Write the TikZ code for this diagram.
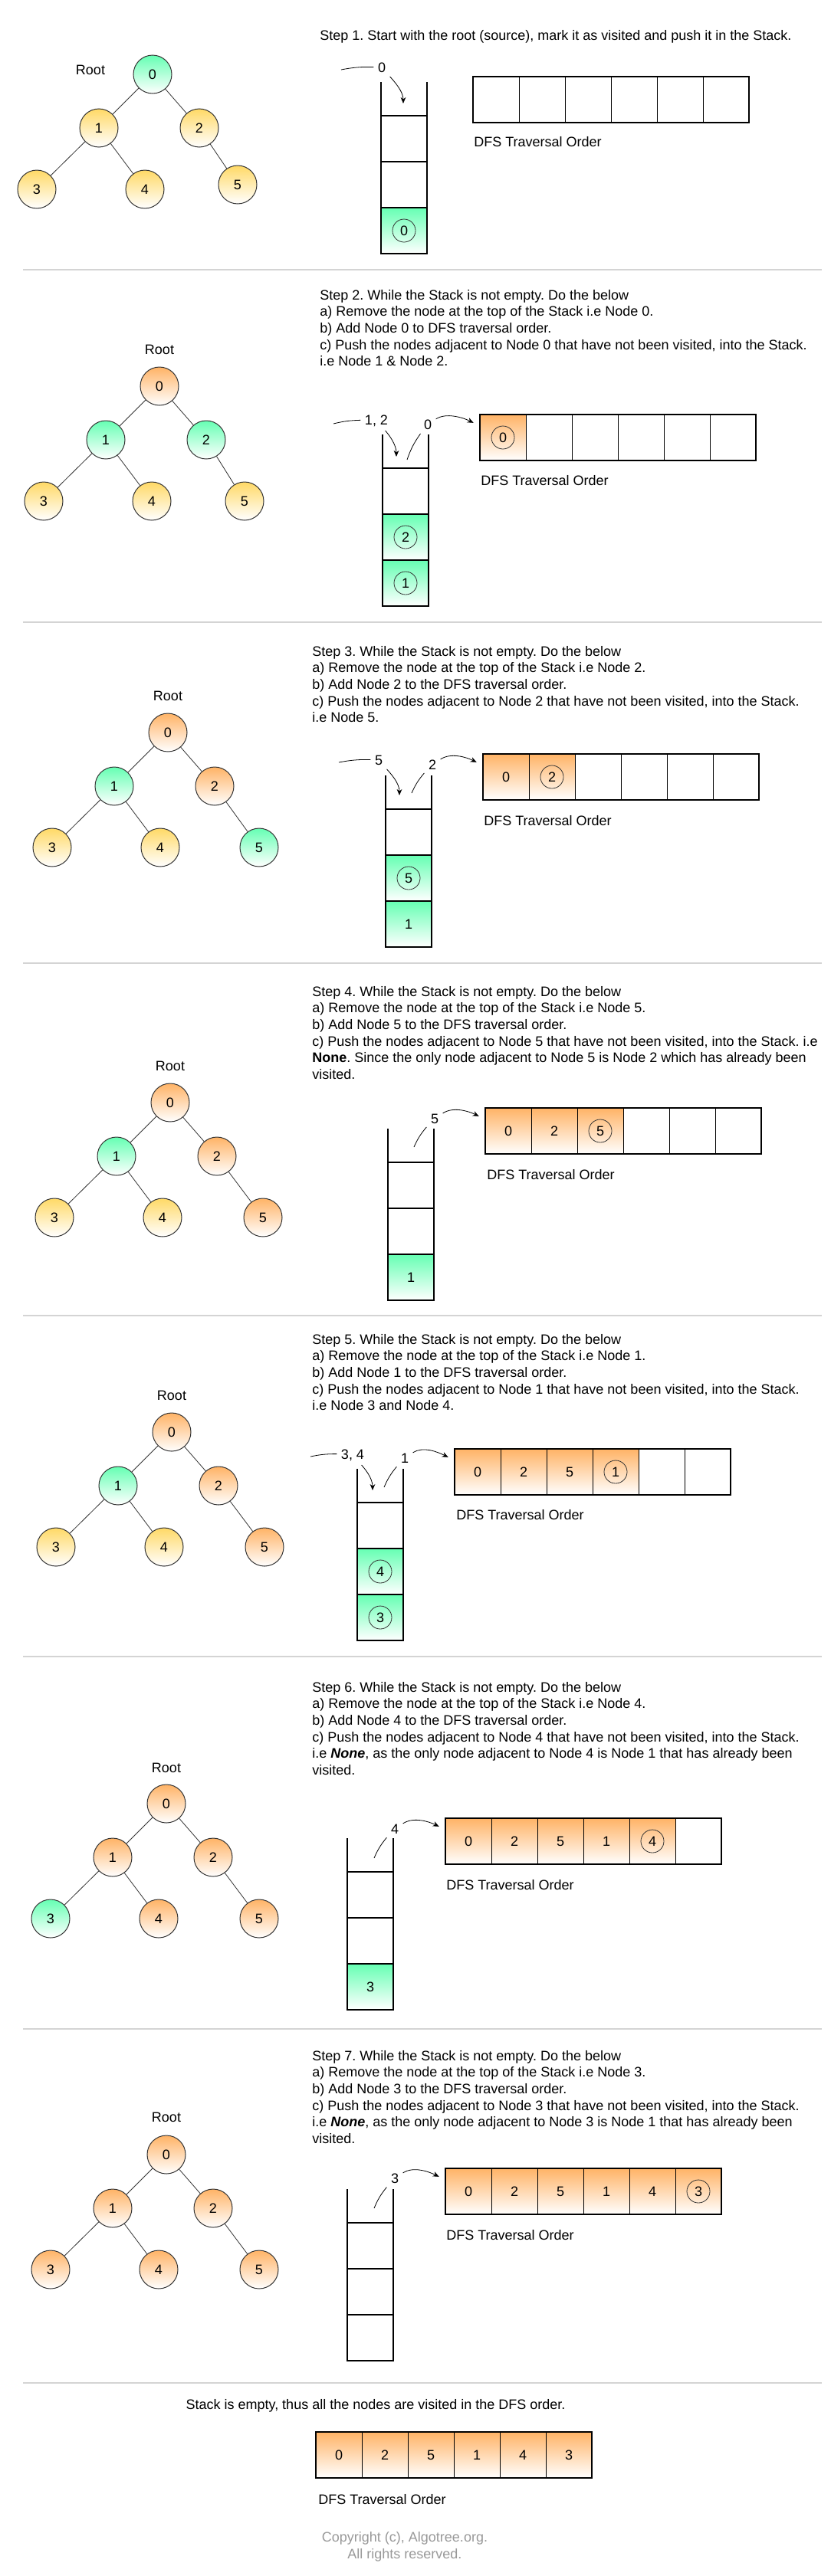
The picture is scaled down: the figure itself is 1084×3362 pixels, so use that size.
\documentclass[tikz,border=0pt]{standalone}
\usepackage{fontspec}
\setmainfont{Liberation Sans}
\frenchspacing
\usetikzlibrary{arrows.meta,calc}
\definecolor{cgrn}{HTML}{66FFB3}
\definecolor{corg}{HTML}{FFB366}
\definecolor{cyel}{HTML}{FFD966}
\definecolor{csep}{HTML}{D4D4D4}
\definecolor{ccopy}{HTML}{999999}
\definecolor{cline}{HTML}{333333}
\tikzset{
  txt/.style={font=\fontsize{13.5}{16.2}\selectfont, inner sep=0pt},
  lbl/.style={font=\fontsize{13.5}{16.2}\selectfont, inner sep=4pt},
  steptxt/.style={txt, anchor=north west, align=left},
  tn/.style={circle, draw=cline, line width=0.75pt, minimum size=37.5pt, inner sep=0pt, font=\fontsize{13.5}{16.2}\selectfont},
  yel/.style={top color=cyel, bottom color=white},
  grn/.style={top color=cgrn, bottom color=white},
  org/.style={top color=corg, bottom color=white},
  tedge/.style={draw=cline, line width=0.6pt},
  scell/.style={rectangle, draw=black, line width=1pt, minimum width=45pt, minimum height=45pt, inner sep=0pt, outer sep=0pt, font=\fontsize{13.5}{16.2}\selectfont},
  acell/.style={rectangle, draw=black, line width=0.75pt, minimum width=45pt, minimum height=45pt, inner sep=0pt, outer sep=0pt, font=\fontsize{13.5}{16.2}\selectfont},
  aout/.style={draw=black, line width=1.5pt},
  stk/.style={draw=black, line width=1pt},
  kc/.style={path picture={\draw[draw=cline, line width=0.6pt] (path picture bounding box.center) circle[radius=11.25pt];}},
  arr/.style={draw=black, line width=0.6pt, -{Stealth[length=6pt,width=5pt]}},
  cl/.style={draw=black, line width=0.6pt},
  sep/.style={draw=csep, line width=2pt},
}
\newcommand\dfsTree[9]{%
 \begin{scope}[shift={(#2)}]
  \node[tn,#3] (#1n0) at (0,0) {0};
  \node[tn,#4] (#1n1) at (-70,70) {1};
  \node[tn,#5] (#1n2) at (61,70) {2};
  \node[tn,#6] (#1n3) at (-151,150) {3};
  \node[tn,#7] (#1n4) at (-10,150) {4};
  \node[tn,#8] (#1n5) at (#9) {5};
 \end{scope}
 \draw[tedge] (#1n0) -- (#1n1);
 \draw[tedge] (#1n0) -- (#1n2);
 \draw[tedge] (#1n1) -- (#1n3);
 \draw[tedge] (#1n1) -- (#1n4);
 \draw[tedge] (#1n2) -- (#1n5);
}
\newcommand\dfsStack[8]{%
 \begin{scope}[shift={(#2)}]
  \node[scell,#3] (#1c1) at (30,74) {#4};
  \node[scell,#5] (#1c2) at (30,134) {#6};
  \node[scell,#7] (#1c3) at (30,194) {#8};
 \end{scope}
 \draw[stk] (#1c1.north west) -- ++(0,-44);
 \draw[stk] (#1c1.north east) -- ++(0,-44);
}
\newcommand\aCell[4]{\node[acell,#3] (#1#2) at ({60*#2-30},30) {#4};}
\begin{document}
\begin{tikzpicture}[x=0.75pt,y=-0.75pt]
\fill[white] (0,0) rectangle (1084,3362);
\path[use as bounding box] (0,0) rectangle (1084,3362);

\foreach \yy in {352,812,1257,1717,2162,2648,3110} \draw[sep] (30,\yy) -- (1072,\yy);

% ---------------- Step 1
\node[steptxt] (s1t) at (417,39) {Step 1. Start with the root (source), mark it as visited and push it in the Stack.};
\dfsTree{s1}{199,97}{grn}{yel}{yel}{yel}{yel}{yel}{111,144}
\node[txt] (s1root) at (118,91) {Root};
\dfsStack{s1s}{497,107}{}{}{}{}{grn,kc}{0}
\begin{scope}[shift={(617,100)}]
\aCell{s1a}{1}{}{}\aCell{s1a}{2}{}{}\aCell{s1a}{3}{}{}\aCell{s1a}{4}{}{}\aCell{s1a}{5}{}{}\aCell{s1a}{6}{}{}
\end{scope}
\draw[aout] (s1a1.north west) rectangle (s1a6.south east);
\node[txt,anchor=west] (s1dfs) at (618,185) {DFS Traversal Order};
\coordinate (s1ps) at (445,91);
\node[lbl] (s1pl) at (498,88) {0};
\coordinate (s1pt) at (526,135);
\draw[cl] (s1ps) to[bend left=6] (s1pl);
\draw[arr] (s1pl) .. controls +(16,18) and +(0,-16) .. (s1pt);

% ---------------- Step 2
\node[steptxt] (s2t) at (417,378) {Step 2. While the Stack is not empty. Do the below\\
a) Remove the node at the top of the Stack i.e Node 0.\\
b) Add Node 0 to DFS traversal order.\\
c) Push the nodes adjacent to Node 0 that have not been visited, into the Stack.\\
i.e Node 1 \& Node 2.};
\dfsTree{s2}{208,504}{org}{grn}{grn}{yel}{yel}{yel}{111,150}
\node[txt] (s2root) at (208,456) {Root};
\dfsStack{s2s}{499,567}{}{}{grn,kc}{2}{grn,kc}{1}
\begin{scope}[shift={(626,541)}]
\aCell{s2a}{1}{org,kc}{0}\aCell{s2a}{2}{}{}\aCell{s2a}{3}{}{}\aCell{s2a}{4}{}{}\aCell{s2a}{5}{}{}\aCell{s2a}{6}{}{}
\end{scope}
\draw[aout] (s2a1.north west) rectangle (s2a6.south east);
\node[txt,anchor=west] (s2dfs) at (627,627) {DFS Traversal Order};
\coordinate (s2ps) at (435,553);
\node[lbl] (s2pl) at (491,549) {1, 2};
\coordinate (s2pt) at (517,596);
\draw[cl] (s2ps) to[bend left=6] (s2pl);
\draw[arr] (s2pl) .. controls +(16,18) and +(0,-16) .. (s2pt);
\coordinate (s2q) at (531,600);
\node[lbl] (s2ql) at (558,554) {0};
\draw[cl] (s2q) to[bend left=8] (s2ql);
\draw[arr, shorten >=7pt] (s2ql) .. controls +(24,-16) and +(-52,-26) .. (s2a1);

% ---------------- Step 3
\node[steptxt] (s3t) at (407,843) {Step 3. While the Stack is not empty. Do the below\\
a) Remove the node at the top of the Stack i.e Node 2.\\
b) Add Node 2 to the DFS traversal order.\\
c) Push the nodes adjacent to Node 2 that have not been visited, into the Stack.\\
i.e Node 5.};
\dfsTree{s3}{219,956}{org}{grn}{org}{yel}{yel}{grn}{119,150}
\node[txt] (s3root) at (219,908) {Root};
\dfsStack{s3s}{503,1012}{}{}{grn,kc}{5}{grn}{1}
\begin{scope}[shift={(630,984)}]
\aCell{s3a}{1}{org}{0}\aCell{s3a}{2}{org,kc}{2}\aCell{s3a}{3}{}{}\aCell{s3a}{4}{}{}\aCell{s3a}{5}{}{}\aCell{s3a}{6}{}{}
\end{scope}
\draw[aout] (s3a1.north west) rectangle (s3a6.south east);
\node[txt,anchor=west] (s3dfs) at (631,1071) {DFS Traversal Order};
\coordinate (s3ps) at (442,995);
\node[lbl] (s3pl) at (494,992) {5};
\coordinate (s3pt) at (521,1038);
\draw[cl] (s3ps) to[bend left=6] (s3pl);
\draw[arr] (s3pl) .. controls +(16,18) and +(0,-16) .. (s3pt);
\coordinate (s3q) at (537,1035);
\node[lbl] (s3ql) at (564,998) {2};
\draw[cl] (s3q) to[bend left=8] (s3ql);
\draw[arr, shorten >=7pt] (s3ql) .. controls +(24,-16) and +(-52,-26) .. (s3a1);

% ---------------- Step 4
\node[steptxt] (s4t) at (407,1287) {Step 4. While the Stack is not empty. Do the below\\
a) Remove the node at the top of the Stack i.e Node 5.\\
b) Add Node 5 to the DFS traversal order.\\
c) Push the nodes adjacent to Node 5 that have not been visited, into the Stack. i.e\\
\textbf{None}. Since the only node adjacent to Node 5 is Node 2 which has already been\\
visited.};
\dfsTree{s4}{222,1439}{org}{grn}{org}{yel}{yel}{org}{121,150}
\node[txt] (s4root) at (222,1391) {Root};
\dfsStack{s4s}{506,1473}{}{}{}{}{grn}{1}
\begin{scope}[shift={(633,1446)}]
\aCell{s4a}{1}{org}{0}\aCell{s4a}{2}{org}{2}\aCell{s4a}{3}{org,kc}{5}\aCell{s4a}{4}{}{}\aCell{s4a}{5}{}{}\aCell{s4a}{6}{}{}
\end{scope}
\draw[aout] (s4a1.north west) rectangle (s4a6.south east);
\node[txt,anchor=west] (s4dfs) at (635,1533) {DFS Traversal Order};
\coordinate (s4q) at (540,1497);
\node[lbl] (s4ql) at (567,1460) {5};
\draw[cl] (s4q) to[bend left=8] (s4ql);
\draw[arr, shorten >=7pt] (s4ql) .. controls +(24,-16) and +(-52,-26) .. (s4a1);

% ---------------- Step 5
\node[steptxt] (s5t) at (407,1741) {Step 5. While the Stack is not empty. Do the below\\
a) Remove the node at the top of the Stack i.e Node 1.\\
b) Add Node 1 to the DFS traversal order.\\
c) Push the nodes adjacent to Node 1 that have not been visited, into the Stack.\\
i.e Node 3 and Node 4.};
\dfsTree{s5}{224,1869}{org}{grn}{org}{yel}{yel}{org}{121,150}
\node[txt] (s5root) at (224,1821) {Root};
\dfsStack{s5s}{466,1917}{}{}{grn,kc}{4}{grn,kc}{3}
\begin{scope}[shift={(593,1891)}]
\aCell{s5a}{1}{org}{0}\aCell{s5a}{2}{org}{2}\aCell{s5a}{3}{org}{5}\aCell{s5a}{4}{org,kc}{1}\aCell{s5a}{5}{}{}\aCell{s5a}{6}{}{}
\end{scope}
\draw[aout] (s5a1.north west) rectangle (s5a6.south east);
\node[txt,anchor=west] (s5dfs) at (595,1977) {DFS Traversal Order};
\coordinate (s5ps) at (405,1901);
\node[lbl] (s5pl) at (460,1899) {3, 4};
\coordinate (s5pt) at (486,1945);
\draw[cl] (s5ps) to[bend left=6] (s5pl);
\draw[arr] (s5pl) .. controls +(16,18) and +(0,-16) .. (s5pt);
\coordinate (s5q) at (501,1941);
\node[lbl] (s5ql) at (528,1903) {1};
\draw[cl] (s5q) to[bend left=8] (s5ql);
\draw[arr, shorten >=7pt] (s5ql) .. controls +(24,-16) and +(-52,-26) .. (s5a1);

% ---------------- Step 6
\node[steptxt] (s6t) at (407,2195) {Step 6. While the Stack is not empty. Do the below\\
a) Remove the node at the top of the Stack i.e Node 4.\\
b) Add Node 4 to the DFS traversal order.\\
c) Push the nodes adjacent to Node 4 that have not been visited, into the Stack.\\
i.e \textbf{\textit{None}}, as the only node adjacent to Node 4 is Node 1 that has already been\\
visited.};
\dfsTree{s6}{217,2354}{org}{org}{org}{grn}{org}{org}{121,150}
\node[txt] (s6root) at (217,2307) {Root};
\dfsStack{s6s}{453,2399}{}{}{}{}{grn}{3}
\begin{scope}[shift={(581,2373)}]
\aCell{s6a}{1}{org}{0}\aCell{s6a}{2}{org}{2}\aCell{s6a}{3}{org}{5}\aCell{s6a}{4}{org}{1}\aCell{s6a}{5}{org,kc}{4}\aCell{s6a}{6}{}{}
\end{scope}
\draw[aout] (s6a1.north west) rectangle (s6a6.south east);
\node[txt,anchor=west] (s6dfs) at (582,2460) {DFS Traversal Order};
\coordinate (s6q) at (488,2425);
\node[lbl] (s6ql) at (515,2387) {4};
\draw[cl] (s6q) to[bend left=8] (s6ql);
\draw[arr, shorten >=7pt] (s6ql) .. controls +(24,-16) and +(-52,-26) .. (s6a1);

% ---------------- Step 7
\node[steptxt] (s7t) at (407,2676) {Step 7. While the Stack is not empty. Do the below\\
a) Remove the node at the top of the Stack i.e Node 3.\\
b) Add Node 3 to the DFS traversal order.\\
c) Push the nodes adjacent to Node 3 that have not been visited, into the Stack.\\
i.e \textbf{\textit{None}}, as the only node adjacent to Node 3 is Node 1 that has already been\\
visited.};
\dfsTree{s7}{217,2812}{org}{org}{org}{org}{org}{org}{121,150}
\node[txt] (s7root) at (217,2763) {Root};
\dfsStack{s7s}{453,2857}{}{}{}{}{}{}
\begin{scope}[shift={(581,2830)}]
\aCell{s7a}{1}{org}{0}\aCell{s7a}{2}{org}{2}\aCell{s7a}{3}{org}{5}\aCell{s7a}{4}{org}{1}\aCell{s7a}{5}{org}{4}\aCell{s7a}{6}{org,kc}{3}
\end{scope}
\draw[aout] (s7a1.north west) rectangle (s7a6.south east);
\node[txt,anchor=west] (s7dfs) at (582,2917) {DFS Traversal Order};
\coordinate (s7q) at (488,2882);
\node[lbl] (s7ql) at (515,2843) {3};
\draw[cl] (s7q) to[bend left=8] (s7ql);
\draw[arr, shorten >=7pt] (s7ql) .. controls +(24,-16) and +(-52,-26) .. (s7a1);

% ---------------- Final
\node[txt] (s8t) at (490,3140) {Stack is empty, thus all the nodes are visited in the DFS order.};
\begin{scope}[shift={(412,3174)}]
\aCell{s8a}{1}{org}{0}\aCell{s8a}{2}{org}{2}\aCell{s8a}{3}{org}{5}\aCell{s8a}{4}{org}{1}\aCell{s8a}{5}{org}{4}\aCell{s8a}{6}{org}{3}
\end{scope}
\draw[aout] (s8a1.north west) rectangle (s8a6.south east);
\node[txt,anchor=west] (s8dfs) at (415,3262) {DFS Traversal Order};
\node[txt, align=center, text=ccopy] (copy) at (528,3324) {Copyright (c), Algotree.org.\\All rights reserved.};
\end{tikzpicture}
\end{document}
